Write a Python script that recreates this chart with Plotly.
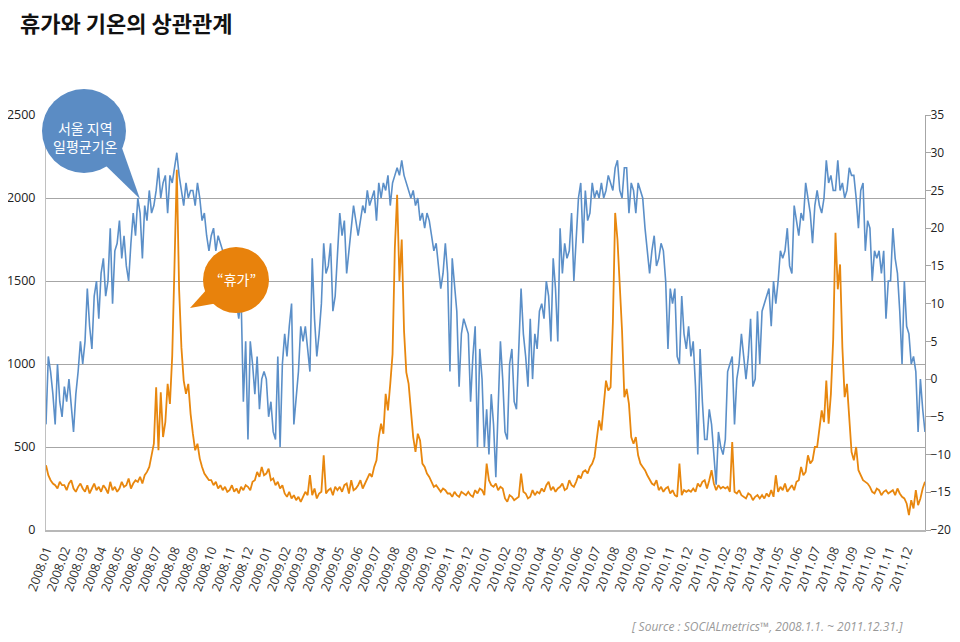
import pandas as pd
import plotly.graph_objects as go

# ---- data (8 readings per month, 2008.01 - 2011.12) ----
years = [2008, 2009, 2010, 2011]

# Seoul daily mean temperature (right axis, deg C)
temp_2008 = [-6, 3, 1, -2, -6, 2, -3, -5,
             -1, -3, 0, -4, -7, -2, 1, 5,
             2, 5, 12, 7, 4, 11, 13, 8,
             14, 16, 11, 13, 20, 10, 17, 18,
             21, 16, 19, 15, 13, 18, 22, 19,
             24, 22, 16, 23, 21, 25, 22, 23,
             25, 28, 24, 26, 27, 22, 27, 26,
             28, 30, 27, 25, 23, 26, 24, 25,
             25, 23, 26, 24, 21, 22, 19, 17,
             19, 20, 17, 19, 18, 17, 15, 16,
             13, 12, 9, 10, 8, 11, -3, 5,
             -8, 5, 2, -2, 3, -4, 0, 1]
temp_2009 = [0, -5, -3, -7, -8, 3, -9, 2,
             6, 3, 7, 10, -6, -2, 1, 7,
             5, 7, 4, 1, 16, 8, 3, 6,
             10, 18, 14, 15, 18, 9, 11, 16,
             22, 19, 21, 14, 17, 20, 23, 21,
             19, 21, 23, 22, 25, 23, 24, 25,
             21, 26, 24, 26, 25, 27, 23, 26,
             27, 28, 27, 29, 27, 26, 25, 24,
             25, 23, 24, 21, 22, 20, 22, 21,
             19, 17, 18, 15, 12, 14, 18, 14,
             1, 16, 12, 9, -1, 6, 8, 7,
             6, -3, 3, 7, -9, 4, 0, -9]
temp_2010 = [-4, -10, -2, -6, -13, -4, 5, 0,
             -7, -8, 2, 4, -3, -4, 4, 12,
             6, 3, -1, 8, 0, 6, 4, 9,
             10, 8, 13, 11, 5, 16, 12, 5,
             20, 14, 18, 16, 17, 22, 13, 18,
             24, 26, 18, 25, 21, 22, 26, 24,
             25, 24, 26, 24, 25, 27, 26, 25,
             28, 29, 25, 24, 28, 28, 22, 26,
             25, 22, 26, 25, 24, 20, 17, 14,
             17, 19, 15, 16, 18, 17, 13, 4,
             12, 10, 12, 3, 2, 11, 6, 4,
             7, 3, 5, -1, -10, 4, -3, -8]
temp_2011 = [-8, -4, -6, -10, -14, -7, -9, -10,
             -8, 1, 2, 3, -6, 0, 2, 6,
             3, 0, 3, 8, -1, 0, 9, 2,
             9, 10, 11, 12, 7, 13, 10, 13,
             17, 16, 17, 20, 15, 14, 23, 21,
             19, 22, 21, 26, 24, 22, 18, 23,
             25, 23, 22, 24, 29, 26, 27, 25,
             25, 29, 25, 26, 24, 25, 28, 27,
             27, 24, 20, 25, 26, 17, 21, 20,
             13, 17, 16, 17, 14, 17, 8, 13,
             13, 20, 16, 14, 9, 2, 13, 7,
             6, 2, 3, 1, -7, 0, -4, -7]

# "휴가" buzz volume (left axis)
vac_2008 = [390, 330, 300, 280, 270, 250, 290, 270,
            270, 240, 280, 300, 250, 230, 260, 280,
            250, 230, 270, 220, 250, 280, 240, 260,
            230, 270, 250, 220, 290, 240, 260, 230,
            250, 290, 260, 270, 310, 250, 280, 300,
            290, 320, 280, 330, 350, 380, 450, 520,
            860, 480, 830, 560, 650, 880, 760, 1050,
            1600, 2170, 1450, 1100, 900, 820, 880, 700,
            580, 480, 520, 430, 380, 340, 320, 300,
            300, 270, 290, 250, 270, 240, 260, 230,
            240, 270, 230, 250, 220, 260, 240, 270,
            260, 240, 290, 300, 350, 320, 380, 330]
vac_2009 = [340, 370, 300, 310, 270, 290, 250, 270,
            220, 200, 230, 190, 210, 180, 200, 170,
            200, 230, 210, 330, 210, 250, 190, 220,
            230, 450, 220, 240, 250, 210, 260, 240,
            260, 230, 270, 280, 220, 300, 240, 250,
            270, 300, 250, 280, 310, 340, 320, 380,
            420, 560, 640, 580, 820, 720, 880, 1060,
            1700, 2020, 1500, 1750, 1200, 950, 880, 720,
            560, 470, 580, 540, 400, 380, 340, 320,
            290, 260, 270, 250, 230, 250, 240, 220,
            220, 200, 230, 210, 200, 230, 220, 210,
            230, 210, 200, 240, 220, 250, 240, 210]
vac_2010 = [400, 300, 270, 260, 280, 240, 260, 250,
            190, 170, 210, 200, 180, 190, 200, 340,
            230, 220, 190, 200, 240, 210, 230, 220,
            250, 230, 270, 290, 240, 260, 230, 250,
            260, 280, 240, 250, 300, 270, 260, 290,
            330, 310, 350, 360, 340, 380, 400, 440,
            540, 660, 600, 740, 900, 840, 860, 1250,
            1910, 1750, 1450, 1200, 800, 850, 760, 560,
            520, 560, 450, 400, 380, 360, 330, 300,
            280, 270, 300, 240, 260, 230, 250, 260,
            220, 240, 210, 200, 400, 210, 240, 230,
            240, 230, 250, 230, 280, 260, 290, 300]
vac_2011 = [250, 300, 360, 280, 240, 270, 250, 260,
            250, 260, 230, 530, 230, 220, 240, 210,
            200, 190, 220, 210, 180, 200, 210, 190,
            210, 190, 220, 200, 240, 200, 330, 230,
            260, 240, 280, 230, 250, 270, 240, 290,
            300, 380, 330, 350, 450, 400, 420, 500,
            500, 600, 720, 650, 900, 640, 820, 1150,
            1790, 1450, 1600, 1100, 800, 880, 640, 470,
            420, 500, 360, 330, 300, 290, 280, 260,
            230, 220, 250, 240, 210, 230, 240, 220,
            230, 240, 210, 250, 220, 200, 190, 160,
            90, 180, 130, 240, 150, 190, 250, 290]

temperature = temp_2008 + temp_2009 + temp_2010 + temp_2011
vacation = vac_2008 + vac_2009 + vac_2010 + vac_2011
dates = pd.date_range("2008-01-01", "2011-12-31", periods=len(temperature))

month_ticks = pd.date_range("2008-01-01", periods=48, freq="MS")
tick_labels = [f"{y}.{m:02d}" for y in years for m in range(1, 13)]

BLUE = "#5B8FC8"
ORANGE = "#E8870E"
FONT = "Open Sans, Noto Sans CJK KR, sans-serif"
KFONT = "Noto Sans CJK KR, sans-serif"

# the page body adds an 8px margin all round; keep the figure inside the window
PAGE_W, PAGE_H, OFF = 960, 642, 8
W, H = PAGE_W - 2 * OFF, PAGE_H - 2 * OFF

# plot area in page pixels
L, R, T, B = 46, 925, 115, 530


def px(x):
    return (x - L) / (R - L)


def py(y):
    return (B - y) / (B - T)


def bubble(cx, cy, r, tail, color):
    """Circle + triangular tail, given in page pixels."""
    (ax, ay), (bx, by), (tx, ty) = tail
    return [
        dict(type="path", xref="paper", yref="paper", layer="above",
             path=f"M {px(ax)},{py(ay)} L {px(tx)},{py(ty)} L {px(bx)},{py(by)} Z",
             fillcolor=color, line=dict(width=0)),
        dict(type="circle", xref="paper", yref="paper", layer="above",
             x0=px(cx - r), x1=px(cx + r), y0=py(cy + r), y1=py(cy - r),
             fillcolor=color, line=dict(width=0)),
    ]


fig = go.Figure()

# temperature on the base axis (right side), buzz on the overlay so it sits on top
fig.add_trace(go.Scatter(
    x=dates, y=temperature, mode="lines", name="서울 지역 일평균기온",
    line=dict(color=BLUE, width=1.6), yaxis="y",
))
fig.add_trace(go.Scatter(
    x=dates, y=vacation, mode="lines", name="휴가",
    line=dict(color=ORANGE, width=1.8), yaxis="y2",
))

shapes = bubble(84, 131, 42, ((100, 160), (122, 148), (140, 199)), "#5B8CC4")
shapes += bubble(236, 280, 33, ((208, 288), (218, 303), (190, 308)), "#E8820C")

fig.update_layout(
    width=W, height=H,
    margin=dict(l=L - OFF, r=(W + OFF) - R, t=T - OFF, b=(H + OFF) - B),
    paper_bgcolor="white", plot_bgcolor="white",
    showlegend=False,
    font=dict(family=FONT, color="#222"),
    title=dict(text="<b>휴가와 기온의 상관관계</b>",
               x=(20 - OFF) / W, xanchor="left",
               y=1 - (24 - OFF) / H, yanchor="middle", automargin=False,
               font=dict(family=KFONT, size=22, color="#111")),
    xaxis=dict(
        type="date", range=["2008-01-01", "2011-12-31"], automargin=False,
        tickmode="array", tickvals=month_ticks, ticktext=tick_labels,
        tickangle=-70, tickfont=dict(size=12.5, color="#333"),
        showgrid=False, zeroline=False,
        showline=True, linecolor="#b8b8b8", linewidth=2,
        ticks="", ticklabelstandoff=6,
    ),
    yaxis=dict(
        side="right", range=[-20, 35], dtick=5, automargin=False,
        showgrid=False, zeroline=False,
        showline=True, linecolor="#a6a6a6", linewidth=1,
        ticks="outside", ticklen=5, tickcolor="#a6a6a6",
        tickfont=dict(size=12, color="#222"), ticklabelstandoff=-3,
    ),
    yaxis2=dict(
        overlaying="y", side="left", range=[0, 2500], dtick=500, automargin=False,
        showgrid=True, gridcolor="#a6a6a6", gridwidth=1.2,
        zeroline=False,
        showline=True, linecolor="#c0c0c0", linewidth=1,
        ticks="", tickfont=dict(size=12.5, color="#222"), ticklabelstandoff=7,
    ),
    shapes=shapes,
    annotations=[
        dict(text="서울 지역<br>일평균기온", xref="paper", yref="paper",
             x=px(85), y=py(137), xanchor="center", yanchor="middle",
             showarrow=False, font=dict(family=KFONT, size=14, color="white")),
        dict(text="“휴가”", xref="paper", yref="paper",
             x=px(236), y=py(279), xanchor="center", yanchor="middle",
             showarrow=False, font=dict(family=KFONT, size=14, color="white")),
        dict(text="<i>[ Source : SOCIALmetrics™, 2008.1.1. ~ 2011.12.31.]</i>",
             xref="paper", yref="paper", x=px(905), y=py(626),
             xanchor="right", yanchor="middle", showarrow=False,
             font=dict(family=FONT, size=12, color="#999")),
    ],
)

fig.write_html("out.html")
